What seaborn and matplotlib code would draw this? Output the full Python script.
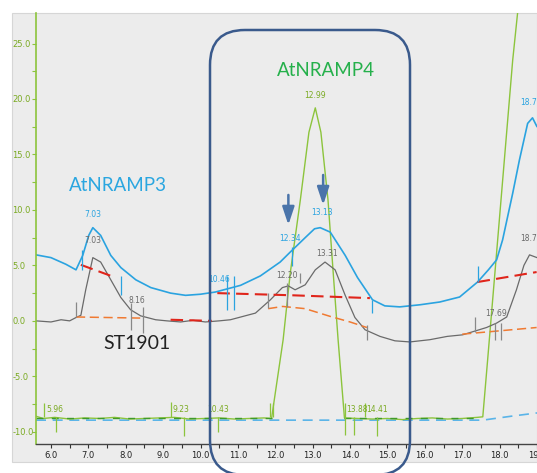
import numpy as np
import pandas as pd
import matplotlib
matplotlib.use("Agg")
import matplotlib.pyplot as plt
from matplotlib.patches import FancyBboxPatch, Rectangle
import seaborn as sns

# chromatogram traces (retention time, signal)
blue_t = [5.6, 6.0, 6.4, 6.67, 6.85, 7.01, 7.12, 7.33, 7.6, 7.87, 8.27, 8.67, 9.2, 9.6, 10.0,
          10.4, 11.07, 11.6, 12.13, 12.4, 12.8, 13.05, 13.2, 13.47, 13.87, 14.2, 14.6, 14.93,
          15.33, 15.87, 16.4, 16.93, 17.41, 17.7, 17.92, 18.08, 18.35, 18.53, 18.75, 18.88, 19.0]
blue_y = [5.95, 5.7, 5.1, 4.6, 5.9, 7.7, 8.4, 7.7, 5.9, 4.8, 3.7, 3.0, 2.5, 2.3, 2.4,
          2.6, 3.2, 4.05, 5.3, 6.2, 7.5, 8.3, 8.4, 8.0, 5.9, 3.9, 1.9, 1.35,
          1.26, 1.45, 1.7, 2.15, 3.5, 4.6, 5.5, 7.3, 11.5, 14.5, 17.8, 18.3, 17.5]

gray_t = [5.6, 6.0, 6.27, 6.5, 6.67, 6.8, 6.93, 7.12, 7.33, 7.6, 7.87, 8.13, 8.4, 8.8, 9.1,
          9.47, 9.8, 10.13, 10.5, 10.8, 11.47, 11.87, 12.19, 12.35, 12.53, 12.8, 13.07, 13.33,
          13.6, 13.87, 14.13, 14.4, 14.8, 15.2, 15.6, 16.13, 16.6, 17.01, 17.65, 17.92, 18.19,
          18.45, 18.65, 18.8, 19.0]
gray_y = [0.0, -0.1, 0.1, 0.0, 0.3, 0.5, 2.8, 5.7, 5.3, 3.7, 2.1, 1.0, 0.45, 0.1, 0.0,
          -0.1, 0.05, -0.1, 0.0, 0.1, 0.7, 1.9, 3.0, 3.15, 2.8, 3.25, 4.6, 5.3,
          4.6, 2.3, 0.3, -0.8, -1.4, -1.8, -1.9, -1.7, -1.4, -1.26, -0.6, -0.2, 0.35,
          2.8, 5.0, 5.95, 5.7]

green_t = [5.6, 5.8, 6.1, 6.5, 6.9, 7.3, 7.7, 8.1, 8.5, 8.9, 9.3, 9.7, 10.1, 10.5, 10.9,
           11.3, 11.7, 11.9, 12.21, 12.4, 12.67, 12.9, 13.07, 13.22, 13.41, 13.55, 13.68,
           13.85, 14.2, 14.6, 15.0, 15.4, 15.8, 16.2, 16.6, 17.0, 17.4, 17.55, 17.68, 18.35, 18.55]
green_y = [-8.6, -8.8, -8.7, -8.85, -8.75, -8.8, -8.7, -8.85, -8.8, -8.75, -8.7, -8.85, -8.8,
           -8.75, -8.85, -8.8, -8.75, -8.8, -1.7, 4.3, 10.9, 17.0, 19.2, 17.0, 10.9, 4.3, -1.7,
           -8.75, -8.8, -8.85, -8.8, -8.9, -8.8, -8.75, -8.85, -8.8, -8.7, -8.65, -3.5, 23.5, 30.0]

# fitted baselines
red_segs = [([6.8, 7.73], [5.05, 3.9]),
            ([10.45, 12.5, 14.53], [2.5, 2.3, 2.05]),
            ([9.2, 10.3], [0.1, 0.0]),
            ([17.41, 18.99], [3.5, 4.4])]
orange_segs = [([6.67, 8.4], [0.35, 0.25]),
               ([11.81, 12.2, 12.8, 13.47, 14.0, 14.45], [1.1, 1.3, 1.1, 0.4, -0.1, -0.6]),
               ([17.0, 18.99], [-1.2, -0.6])]
ltblue_t = [5.6, 17.55, 18.3, 19.0]
ltblue_y = [-8.95, -8.95, -8.6, -8.3]

# peak start / stop markers (x, ymin, ymax)
blue_marks = [(6.83, 4.6, 6.4), (7.87, 2.35, 4.0), (10.72, 1.0, 4.0), (10.9, 1.0, 4.0),
              (12.45, 4.9, 6.7), (14.59, 0.7, 1.9), (17.41, 3.5, 4.9)]
gray_marks = [(6.67, 0.35, 1.7), (8.13, -0.8, 1.6), (8.45, -1.1, 1.26), (11.81, 1.2, 2.5),
              (12.32, 1.26, 3.4), (12.67, 3.4, 4.3), (14.45, -1.7, -0.36), (17.33, -1.0, 0.36),
              (17.87, -1.7, -0.2), (18.03, -1.7, -0.2)]
green_marks = [(5.81, -8.7, -7.4), (6.13, -10.0, -8.7), (9.2, -8.7, -7.3), (9.55, -10.4, -8.7),
               (10.48, -10.0, -8.7), (11.87, -8.7, -7.4), (11.95, -8.7, -7.4), (13.87, -10.3, -7.4),
               (14.11, -10.3, -8.7), (14.4, -8.7, -7.4), (14.72, -10.4, -8.7)]

# retention time labels (x, y, text)
blue_labels = [(7.12, 9.2, "7.03"), (10.5, 3.3, "10.46"), (12.4, 7.0, "12.34"),
               (13.25, 9.4, "13.13"), (18.85, 19.3, "18.72")]
gray_labels = [(7.12, 6.8, "7.03"), (8.3, 1.4, "8.16"), (12.32, 3.7, "12.20"),
               (13.38, 5.7, "13.31"), (18.85, 7.0, "18.70"), (17.9, 0.3, "17.69")]
green_top = [(13.07, 19.9, "12.99")]
green_low = [(5.89, "5.96"), (9.25, "9.23"), (10.19, "10.43"), (13.9, "13.88"), (14.43, "14.41")]

arrows_x = [12.35, 13.28]
arrows_from = [11.6, 13.4]
arrows_to = [8.4, 10.2]

x_ticks = np.arange(6, 20, 1.0)
y_ticks = np.arange(-10, 26, 5.0)

BLUE = "#2aa3e0"
GRAY = "#6a6a6a"
GREEN = "#8cc43c"
LABEL_GREEN = "#7aaa22"
NAVY = "#3a5a8c"

sns.set_theme(style="white")
small = ["Liberation Sans Narrow", "DejaVu Sans"]
big = ["Lato", "DejaVu Sans"]

fig = plt.figure(figsize=(5.37, 4.73), dpi=100)
W, H = 537, 473
# grey panel behind the plot
fig.patches.append(Rectangle((12 / W, (H - 462) / H), (W - 12) / W, (462 - 13) / H,
                             transform=fig.transFigure, facecolor="#ececec",
                             edgecolor="#d6d6d6", lw=0.8, zorder=-5))
ax = fig.add_axes([36 / W, 29 / H, (W - 36) / W, (444 - 13) / H])
ax.set_facecolor("none")

sns.lineplot(x=ltblue_t, y=ltblue_y, ax=ax, color="#5ab4e8", lw=1.2,
             estimator=None, sort=False, linestyle=(0, (6, 4)))
sns.lineplot(x=green_t, y=green_y, ax=ax, color=GREEN, lw=1.0, estimator=None, sort=False)
ax.plot([5.6, 11.9], [-8.8, -8.8], color="#3f9a2a", lw=1.0, ls=(0, (5, 6)))
ax.plot([13.85, 17.5], [-8.8, -8.8], color="#3f9a2a", lw=1.0, ls=(0, (5, 6)))
sns.lineplot(x=gray_t, y=gray_y, ax=ax, color=GRAY, lw=0.9, estimator=None, sort=False)
sns.lineplot(x=blue_t, y=blue_y, ax=ax, color=BLUE, lw=1.2, estimator=None, sort=False)

for xs, ys in red_segs:
    ax.plot(xs, ys, color="#e0251b", lw=1.5, ls=(0, (6, 3)))
for xs, ys in orange_segs:
    ax.plot(xs, ys, color="#f07a32", lw=1.1, ls=(0, (6, 3)))

for marks, col in [(blue_marks, BLUE), (gray_marks, "#888888"), (green_marks, GREEN)]:
    m = pd.DataFrame(marks, columns=["x", "lo", "hi"])
    ax.vlines(m["x"], m["lo"], m["hi"], color=col, lw=0.9)

for x, y, s in blue_labels:
    ax.text(x, y, s, color=BLUE, fontsize=5.5, ha="center", va="bottom", family=small)
for x, y, s in gray_labels:
    ax.text(x, y, s, color=GRAY, fontsize=5.5, ha="center", va="bottom", family=small)
for x, y, s in green_top:
    ax.text(x, y, s, color=LABEL_GREEN, fontsize=5.5, ha="center", va="bottom", family=small)
for x, s in green_low:
    ax.text(x, -8.0, s, color=LABEL_GREEN, fontsize=5.5, ha="left", va="center", family=small)

for x, y0, y1 in zip(arrows_x, arrows_from, arrows_to):
    ax.annotate("", xy=(x, y1), xytext=(x, y0),
                arrowprops=dict(arrowstyle="-|>,head_width=0.3,head_length=0.9",
                                color="#4a74aa", lw=1.8))

ax.text(7.8, 12.2, "AtNRAMP3", color="#2aa6e0", fontsize=13.5, ha="center", va="center", family=big)
ax.text(13.35, 22.6, "AtNRAMP4", color="#25b04b", fontsize=13.5, ha="center", va="center", family=big)
ax.text(8.3, -2.0, "ST1901", color="#222222", fontsize=14, ha="center", va="center", family=big)

ax.set_xlim(5.6, 19.0)
ax.set_ylim(-11.1, 27.75)
ax.set_xticks(x_ticks)
ax.set_xticklabels([f"{v:.1f}" for v in x_ticks], fontsize=6, family=small, color="#222222")
ax.set_xticks(np.arange(6.5, 19.5, 1.0), minor=True)
ax.set_yticks(y_ticks)
ax.set_yticklabels([f"{v:.1f}" for v in y_ticks], fontsize=6, family=small, color=LABEL_GREEN)
ax.set_yticks(np.arange(-7.5, 27.5, 5.0), minor=True)
ax.tick_params(axis="x", which="both", direction="out", length=3, width=0.8, color="#333333", pad=2,
               bottom=True)
ax.tick_params(axis="y", which="both", direction="out", length=3, width=0.8, color=GREEN,
               left=True, pad=14)
for lab in ax.get_yticklabels():
    lab.set_horizontalalignment("left")
sns.despine(ax=ax, top=True, right=True)
ax.spines["left"].set_color(GREEN)
ax.spines["left"].set_linewidth(1.2)
ax.spines["bottom"].set_color("#444444")
ax.spines["bottom"].set_linewidth(1.0)
ax.set_xlabel("")
ax.set_ylabel("")

# rounded highlight box around the AtNRAMP4 window
fig.patches.append(FancyBboxPatch((210 / W, (H - 475) / H), 200 / W, 445 / H,
                                  boxstyle="round,pad=0,rounding_size=0.065",
                                  transform=fig.transFigure, facecolor="none",
                                  edgecolor=NAVY, lw=1.8, zorder=5,
                                  mutation_aspect=W / H))

fig.savefig("out.png", dpi=100)
